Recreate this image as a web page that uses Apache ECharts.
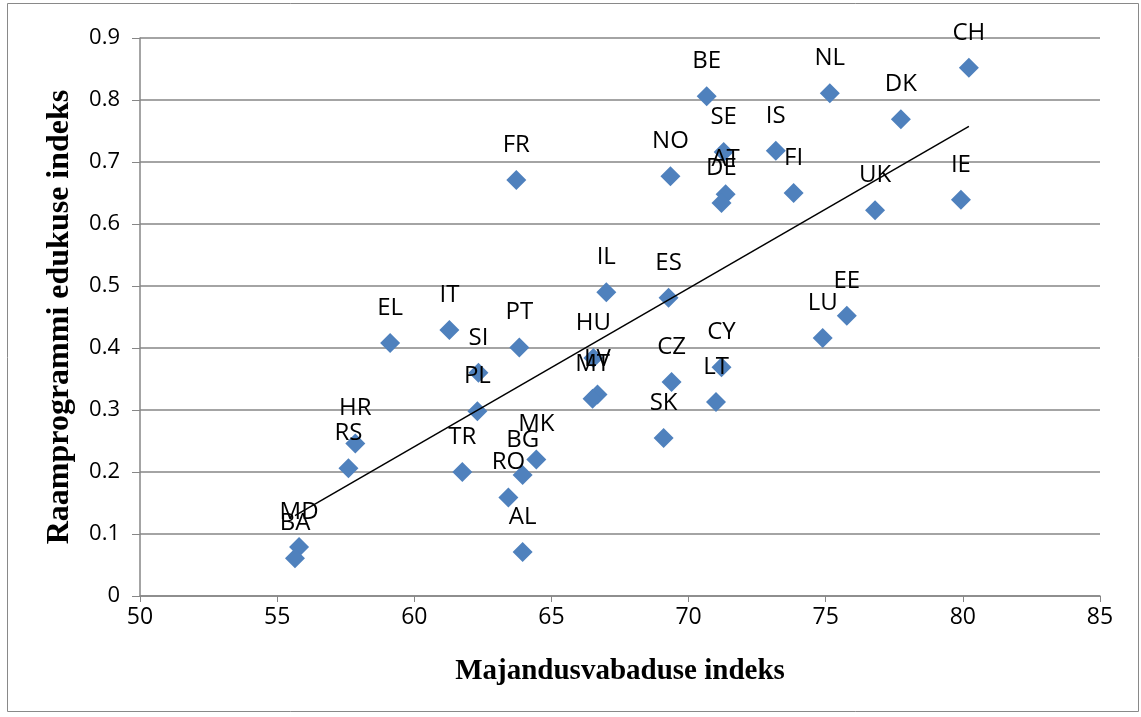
<!DOCTYPE html>
<html>
<head>
<meta charset="utf-8">
<script src="https://cdn.jsdelivr.net/npm/echarts@6/dist/echarts.min.js"></script>
<style>
  html, body { margin: 0; padding: 0; background: #fff; }
  #chart { width: 1141px; height: 717px; }
</style>
</head>
<body>
<div id="chart"></div>
<script>
// riikide koodid
const countries = ['CH','NL','BE','DK','SE','IS','AT','DE','FI','NO','FR','UK','IE','IL','ES','EE','LU','EL','IT','PT','SI','PL','TR','HU','LV','MT','CZ','CY','LT','SK','MK','BG','RO','AL','HR','RS','MD','BA'];
// majandusvabaduse indeks (x)
const freedomIndex = [80.22,75.15,70.66,77.74,71.28,73.18,71.35,71.2,73.83,69.34,63.72,76.8,79.93,67.0,69.27,75.77,74.89,59.12,61.28,63.83,62.34,62.3,61.75,66.53,66.68,66.5,69.38,71.2,71.0,69.09,64.45,63.95,63.43,63.95,57.85,57.6,55.8,55.65];
// raamprogrammi edukuse indeks (y)
const successIndex = [0.852,0.811,0.806,0.769,0.716,0.718,0.648,0.634,0.65,0.677,0.671,0.622,0.639,0.490,0.481,0.452,0.416,0.408,0.429,0.401,0.360,0.298,0.200,0.384,0.325,0.318,0.345,0.369,0.313,0.255,0.220,0.195,0.159,0.071,0.246,0.206,0.079,0.061];

const xTicks = [50, 85, 5];
const yTicks = [0, 0.9, 0.1];

// lineaarne trend (vähimruutude meetod)
function trend(xs, ys) {
    const n = xs.length;
    let sx = 0, sy = 0, sxx = 0, sxy = 0;
    for (let i = 0; i < n; i++) {
        sx += xs[i]; sy += ys[i];
        sxx += xs[i] * xs[i]; sxy += xs[i] * ys[i];
    }
    const b = (n * sxy - sx * sy) / (n * sxx - sx * sx);
    const a = (sy - b * sx) / n;
    const x0 = Math.min(...xs), x1 = Math.max(...xs);
    return [[x0, a + b * x0], [x1, a + b * x1]];
}

const points = countries.map((c, i) => ({ name: c, value: [freedomIndex[i], successIndex[i]] }));

const myChart = echarts.init(document.getElementById('chart'));
myChart.setOption({
    animation: false,
    grid: { left: 140, right: 41, top: 38, bottom: 121 },
    graphic: [
        {
            type: 'rect',
            shape: { x: 7.5, y: 3.5, width: 1131, height: 708 },
            style: { fill: 'none', stroke: '#898989', lineWidth: 1 },
            silent: true
        }
    ],
    xAxis: {
        type: 'value',
        min: xTicks[0], max: xTicks[1], interval: xTicks[2],
        name: 'Majandusvabaduse indeks',
        nameLocation: 'middle',
        nameGap: 61,
        nameTextStyle: { fontFamily: 'Liberation Serif', fontWeight: 'bold', fontSize: 29, color: '#000' },
        axisLine: { lineStyle: { color: '#868686', width: 1.5 } },
        axisTick: { show: true, length: 6, lineStyle: { color: '#868686' } },
        axisLabel: { fontFamily: 'Liberation Sans Narrow, Open Sans', fontSize: 23, color: '#000', margin: 10 },
        splitLine: { show: false }
    },
    yAxis: {
        type: 'value',
        min: yTicks[0], max: yTicks[1], interval: yTicks[2],
        name: 'Raamprogrammi edukuse indeks',
        nameLocation: 'middle',
        nameGap: 64,
        nameTextStyle: { fontFamily: 'Liberation Serif', fontWeight: 'bold', fontSize: 32, color: '#000' },
        axisLine: { show: true, lineStyle: { color: '#868686', width: 1.5 } },
        axisTick: { show: true, length: 8, lineStyle: { color: '#868686' } },
        axisLabel: { fontFamily: 'Open Sans', fontSize: 22, color: '#000', margin: 20,
            formatter: v => v === 0 ? '0' : v.toFixed(1) },
        splitLine: { show: true, lineStyle: { color: '#868686', width: 1.5 } }
    },
    series: [
        {
            type: 'scatter',
            data: points,
            symbol: 'diamond',
            symbolSize: 20,
            itemStyle: { color: '#4F81BD', opacity: 1 },
            label: {
                show: true,
                position: 'top',
                distance: 13,
                formatter: '{b}',
                fontFamily: 'Open Sans',
                fontSize: 24,
                color: '#000'
            },
            z: 3
        },
        {
            type: 'line',
            data: trend(freedomIndex, successIndex),
            symbol: 'none',
            lineStyle: { color: '#000', width: 1.5 },
            z: 4
        }
    ]
});
</script>
</body>
</html>
